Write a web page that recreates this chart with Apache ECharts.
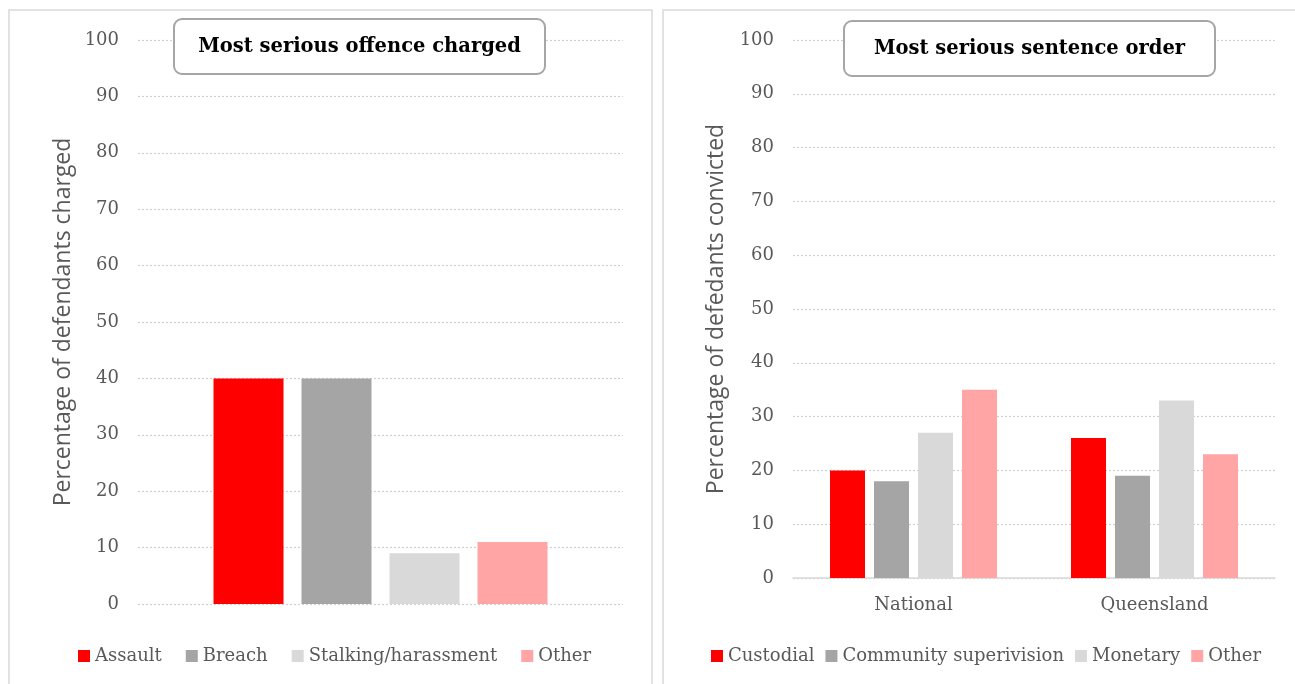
<!DOCTYPE html>
<html>
<head>
<meta charset="utf-8">
<script src="https://cdn.jsdelivr.net/npm/echarts@6/dist/echarts.min.js"></script>
<style>
html,body{margin:0;padding:0;background:#fff;}
#c{width:1295px;height:684px;}
</style>
</head>
<body>
<div id="c"></div>
<script>
// Left chart: most serious offence charged
const offenceNames = ['Assault', 'Breach', 'Stalking/harassment', 'Other'];
const offenceValues = [40, 40, 9, 11];
// Right chart: most serious sentence order
const regions = ['National', 'Queensland'];
const sentenceNames = ['Custodial', 'Community superivision', 'Monetary', 'Other'];
const custodial = [20, 26];
const community = [18, 19];
const monetary = [27, 33];
const otherSentence = [35, 23];
const yTicks = [0, 10, 20, 30, 40, 50, 60, 70, 80, 90, 100];

const colors = ['#FF0000', '#A5A5A5', '#D9D9D9', '#FFA5A5'];
const serif = '"DejaVu Serif", serif';
const sans = '"Open Sans", Lato, sans-serif';
const textCol = '#595959';

function yAxis(gi, name, nameGap) {
  return {
    type: 'value', gridIndex: gi, min: yTicks[0], max: yTicks[yTicks.length - 1], interval: 10,
    name: name, nameLocation: 'middle', nameRotate: 90, nameGap: nameGap,
    nameTextStyle: { fontFamily: sans, fontSize: 23, color: textCol },
    axisLine: { show: false }, axisTick: { show: false },
    axisLabel: { fontFamily: serif, fontSize: 18, color: textCol, margin: 19 },
    splitLine: { lineStyle: { type: [2, 2], color: '#D0D0D0', width: 1.2 } }
  };
}

const series = [];
offenceNames.forEach((n, i) => {
  series.push({
    name: n, type: 'bar', xAxisIndex: 0, yAxisIndex: 0,
    data: [offenceValues[i]], barWidth: 70, barGap: '25.7%',
    itemStyle: { color: colors[i] }
  });
});
const sentData = [custodial, community, monetary, otherSentence];
sentenceNames.forEach((n, i) => {
  series.push({
    name: n + ' ', type: 'bar', xAxisIndex: 1, yAxisIndex: 1,
    data: sentData[i], barWidth: 35, barGap: '25.7%',
    itemStyle: { color: colors[i] }
  });
});

const chart = echarts.init(document.getElementById('c'), null, { renderer: 'canvas' });
chart.setOption({
  animation: false,
  backgroundColor: '#fff',
  grid: [
    { left: 138, top: 40, width: 485, height: 564 },
    { left: 793, top: 40, width: 482, height: 538 }
  ],
  xAxis: [
    { type: 'category', gridIndex: 0, data: [''], axisLine: { show: false }, axisTick: { show: false }, axisLabel: { show: false } },
    { type: 'category', gridIndex: 1, data: regions,
      axisLine: { show: true, lineStyle: { color: '#D9D9D9', width: 1.5 } }, axisTick: { show: false },
      axisLabel: { fontFamily: serif, fontSize: 18, color: textCol, margin: 18 } }
  ],
  yAxis: [
    yAxis(0, 'Percentage of defendants charged', 63),
    yAxis(1, 'Percentage of defedants convicted', 65)
  ],
  legend: [
    { data: offenceNames, left: 73, top: 642, itemWidth: 12, itemHeight: 12, itemGap: 24,
      icon: 'rect', textStyle: { fontFamily: serif, fontSize: 18, color: textCol } },
    { data: sentenceNames.map(n => n + ' '), left: 706, top: 642, itemWidth: 12, itemHeight: 12, itemGap: 11,
      icon: 'rect', textStyle: { fontFamily: serif, fontSize: 18, color: textCol },
      formatter: n => n.trim() }
  ],
  graphic: [
    { type: 'rect', silent: true, z: -10, shape: { x: 9, y: 10, width: 643, height: 690 },
      style: { fill: 'none', stroke: '#D9D9D9', lineWidth: 1.5 } },
    { type: 'rect', silent: true, z: -10, shape: { x: 663, y: 10, width: 660, height: 690 },
      style: { fill: 'none', stroke: '#D9D9D9', lineWidth: 1.5 } },
    { type: 'rect', z: 100, shape: { x: 174, y: 19, width: 371, height: 55, r: 8 },
      style: { fill: '#fff', stroke: '#A6A6A6', lineWidth: 2 } },
    { type: 'text', z: 101, x: 359.5, y: 47,
      style: { text: 'Most serious offence charged', fill: '#000', font: 'bold 19.5px "DejaVu Serif", serif',
        align: 'center', verticalAlign: 'middle' } },
    { type: 'rect', z: 100, shape: { x: 844, y: 21, width: 371, height: 55, r: 8 },
      style: { fill: '#fff', stroke: '#A6A6A6', lineWidth: 2 } },
    { type: 'text', z: 101, x: 1029.5, y: 49,
      style: { text: 'Most serious sentence order', fill: '#000', font: 'bold 19.5px "DejaVu Serif", serif',
        align: 'center', verticalAlign: 'middle' } }
  ],
  series: series
});
</script>
</body>
</html>
